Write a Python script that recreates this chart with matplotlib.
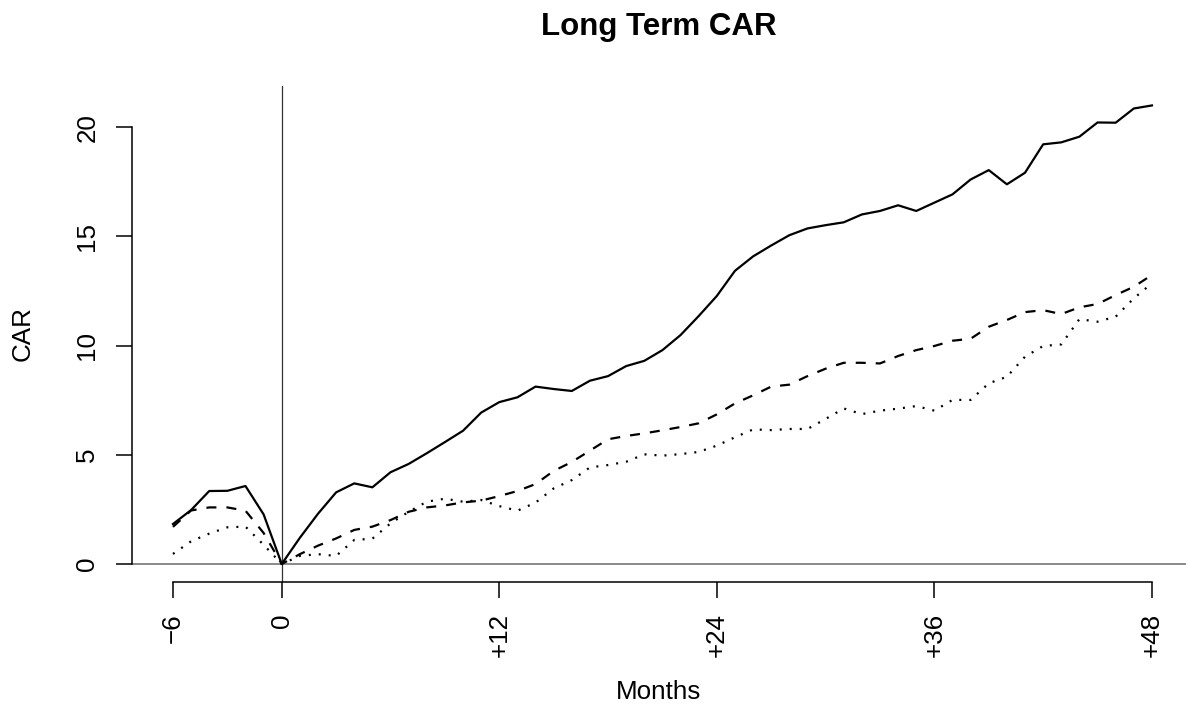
import matplotlib
matplotlib.use("Agg")
import matplotlib.pyplot as plt

plt.rcParams['font.family'] = ['Liberation Sans', 'DejaVu Sans']

months = list(range(-6, 49))

car_solid = [1.83, 2.47, 3.34, 3.35, 3.57, 2.27, 0.00,
             1.20, 2.30, 3.28, 3.69, 3.51, 4.20, 4.58, 5.07, 5.58, 6.10, 6.93, 7.41,
             7.63, 8.12, 8.01, 7.92, 8.39, 8.60, 9.06, 9.30, 9.79, 10.48, 11.35, 12.27,
             13.42, 14.08, 14.58, 15.05, 15.36, 15.51, 15.64, 16.00, 16.16, 16.42, 16.16, 16.54,
             16.92, 17.60, 18.03, 17.38, 17.91, 19.21, 19.30, 19.56, 20.21, 20.20, 20.85, 20.99]

car_dashed = [1.70, 2.45, 2.59, 2.59, 2.44, 1.42, 0.00,
              0.45, 0.84, 1.17, 1.56, 1.71, 2.01, 2.39, 2.59, 2.68, 2.82, 2.90, 3.11,
              3.34, 3.66, 4.26, 4.67, 5.19, 5.71, 5.86, 5.98, 6.12, 6.27, 6.44, 6.85,
              7.35, 7.72, 8.12, 8.21, 8.60, 8.94, 9.21, 9.21, 9.18, 9.52, 9.79, 9.98,
              10.22, 10.31, 10.86, 11.17, 11.53, 11.62, 11.44, 11.75, 11.90, 12.31, 12.69, 13.23]

car_dotted = [0.46, 1.04, 1.39, 1.68, 1.71, 0.88, 0.00,
              0.37, 0.45, 0.37, 1.10, 1.16, 1.86, 2.39, 2.85, 2.99, 2.85, 2.93, 2.65,
              2.44, 2.81, 3.46, 3.84, 4.42, 4.53, 4.68, 5.02, 4.96, 5.03, 5.13, 5.42,
              5.80, 6.16, 6.13, 6.18, 6.18, 6.64, 7.12, 6.86, 7.02, 7.11, 7.23, 7.02,
              7.51, 7.51, 8.27, 8.57, 9.49, 9.98, 10.05, 11.21, 11.09, 11.32, 12.16, 12.85]

x_ticks = [-6, 0, 12, 24, 36, 48]
x_tick_labels = ["\u22126", "0", "+12", "+24", "+36", "+48"]
y_ticks = [0, 5, 10, 15, 20]
y_tick_labels = ["0", "5", "10", "15", "20"]

W, H = 1186, 707
fig = plt.figure(figsize=(W / 100, H / 100), dpi=100)
ax = fig.add_axes([132 / W, 1 - 582 / H, 1 - 132 / W, (582 - 86) / H])

ax.axhline(0, color='#808080', lw=1.3, zorder=1)
ax.axvline(0, color='#333333', lw=0.9, zorder=1)

lw = 1.6
ax.plot(months, car_solid, color='black', lw=lw, solid_joinstyle='round')
ax.plot(months, car_dashed, color='black', lw=lw, dashes=(4.5, 4.5), dash_capstyle='butt')
ax.plot(months, car_dotted, color='black', lw=lw, dashes=(0.9, 3.6), dash_capstyle='butt')

ax.set_xlim(-8.26, 49.88)
ax.set_ylim(-0.824, 21.88)

for s in ['top', 'right']:
    ax.spines[s].set_visible(False)
ax.spines['left'].set_bounds(0, 20)
ax.spines['bottom'].set_bounds(-6, 48)
ax.spines['left'].set_linewidth(1.1)
ax.spines['bottom'].set_linewidth(1.1)

ax.set_xticks(x_ticks)
ax.set_xticklabels(x_tick_labels, rotation=90, va='top', ha='center')
ax.set_yticks(y_ticks)
ax.set_yticklabels(y_tick_labels, rotation=90, va='center', ha='right')
ax.tick_params(axis='both', length=11.5, width=1.1, labelsize=18.7, direction='out')
ax.tick_params(axis='x', pad=11)
ax.tick_params(axis='y', pad=12)

fig.text(659 / W, 1 - 35 / H, "Long Term CAR", ha='center', va='baseline',
         fontsize=22.5, fontweight='bold')
fig.text(659 / W, 1 - 699 / H, "Months", ha='center', va='baseline', fontsize=18.7)
fig.text(22.5 / W, 1 - 334 / H, "CAR", ha='center', va='center', rotation=90, fontsize=18.7)

fig.savefig("out.png", dpi=100)
